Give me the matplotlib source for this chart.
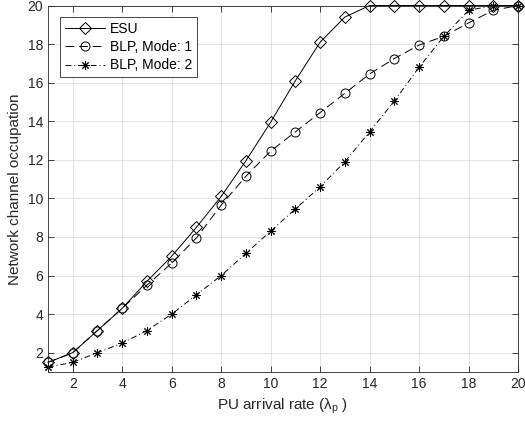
import numpy as np
import matplotlib
matplotlib.use("Agg")
import matplotlib.pyplot as plt

plt.rcParams['font.family'] = ['Liberation Sans', 'DejaVu Sans']
plt.rcParams['mathtext.fontset'] = 'custom'
plt.rcParams['mathtext.rm'] = 'Liberation Sans'
plt.rcParams['mathtext.it'] = 'Liberation Sans'

# data
arrival_rate = list(range(1, 21))
esu = [1.5, 2.0, 3.15, 4.3, 5.7, 7.0, 8.5, 10.1, 11.95, 13.95,
       16.1, 18.1, 19.4, 20, 20, 20, 20, 20, 20, 20]
blp_mode1 = [1.5, 2.0, 3.15, 4.3, 5.5, 6.65, 7.95, 9.65, 11.15, 12.45,
             13.45, 14.45, 15.45, 16.45, 17.25, 17.95, 18.4, 19.1, 19.75, 20]
blp_mode2 = [1.25, 1.5, 2.0, 2.5, 3.15, 4.0, 5.0, 6.0, 7.15, 8.3,
             9.45, 10.6, 11.9, 13.45, 15.05, 16.8, 18.4, 19.75, 20, 20]
x_ticks = [2, 4, 6, 8, 10, 12, 14, 16, 18, 20]
y_ticks = [2, 4, 6, 8, 10, 12, 14, 16, 18, 20]

fig = plt.figure(figsize=(5.25, 4.25), dpi=100)
ax = fig.add_axes([0.0914, 0.1247, 0.8953, 0.8623])

asterisk = (8, 2, 0)
ax.plot(arrival_rate, esu, '-', color='k', lw=0.7, marker='D', ms=6,
        mfc='none', mec='k', mew=0.7, label='ESU', clip_on=False)
ax.plot(arrival_rate, blp_mode1, ls=(0, (9, 5)), color='k', lw=0.7, marker='o', ms=6.5,
        mfc='none', mec='k', mew=0.7, label='BLP, Mode: 1', clip_on=False)
ax.plot(arrival_rate, blp_mode2, ls=(0, (6, 3, 1, 3)), color='k', lw=0.7,
        marker=asterisk, ms=6, mec='k', mew=0.7, label='BLP, Mode: 2', clip_on=False)

ax.set_xlim(1, 20)
ax.set_ylim(1, 20)
ax.set_xticks(x_ticks)
ax.set_yticks(y_ticks)
ax.tick_params(direction='in', length=4, width=0.6, colors='0.15',
               labelsize=10, top=True, right=True, labelcolor='0.15')
ax.grid(True, color='0.87', lw=0.6)
ax.set_axisbelow(True)
for s in ax.spines.values():
    s.set_color('0.15')
    s.set_linewidth(0.6)

ax.set_xlabel(r'PU arrival rate ($\lambda_{\rm p}$ )', fontsize=11, color='0.15')
ax.set_ylabel('Network channel occupation', fontsize=11, color='0.15')

leg = ax.legend(loc='upper left', fontsize=10, fancybox=False, framealpha=1,
                edgecolor='0.15', handlelength=2.9, handletextpad=0.35,
                borderpad=0.35, labelspacing=0.3, borderaxespad=0,
                bbox_to_anchor=(0.025, 0.968))
leg.get_frame().set_linewidth(0.6)

fig.savefig('out.png', dpi=100)
